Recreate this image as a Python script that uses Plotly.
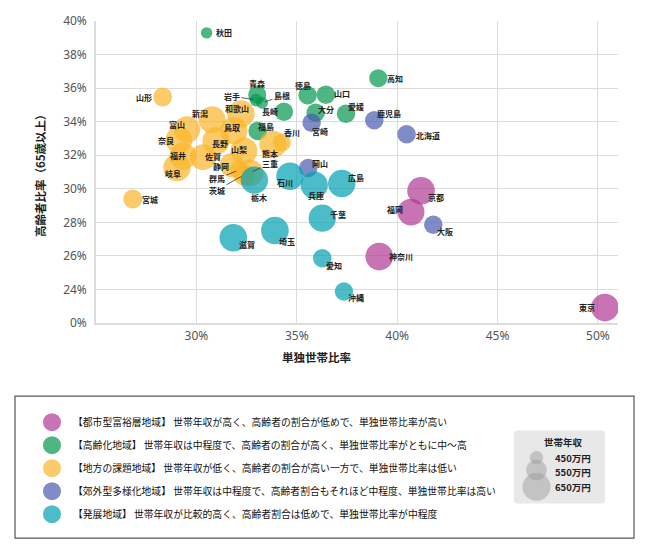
import plotly.graph_objects as go

# ---------------- data ----------------
prefectures = [
    "秋田", "青森", "岩手", "島根", "長崎", "福島", "徳島", "山口", "大分", "愛媛", "高知",
    "宮崎", "鹿児島", "北海道", "岡山", "大阪",
    "山形", "宮城", "新潟", "和歌山", "富山", "鳥取", "奈良", "長野", "山梨", "熊本", "香川",
    "福井", "佐賀", "岐阜", "静岡", "群馬", "三重", "茨城",
    "栃木", "石川", "兵庫", "広島", "千葉", "埼玉", "滋賀", "愛知", "沖縄",
    "京都", "福岡", "神奈川", "東京",
]
single_household_rate = [
    30.51, 33.03, 32.97, 33.27, 34.36, 33.05, 35.54, 36.45, 35.94, 37.45, 39.06,
    35.74, 38.86, 40.47, 35.57, 41.80,
    28.32, 26.83, 30.78, 32.22, 29.53, 31.87, 29.13, 30.98, 32.37, 33.81, 34.26,
    29.33, 30.33, 29.03, 31.77, 32.12, 32.67, 32.37,
    32.89, 34.66, 35.87, 37.24, 36.27, 33.91, 31.84, 36.27, 37.35,
    41.19, 40.69, 39.11, 50.35,
]
elderly_rate = [
    39.29, 35.61, 35.29, 35.12, 34.59, 33.45, 35.57, 35.61, 34.53, 34.47, 36.59,
    33.94, 34.08, 33.25, 31.24, 27.86,
    35.47, 29.39, 34.12, 34.47, 33.53, 33.47, 32.91, 32.85, 32.26, 32.65, 32.76,
    31.94, 31.88, 31.26, 31.41, 31.12, 30.94, 30.82,
    30.51, 30.75, 30.22, 30.31, 28.25, 27.51, 27.08, 25.86, 23.88,
    29.88, 28.61, 25.96, 22.92,
]
household_income = [
    423, 515, 440, 430, 520, 520, 520, 520, 520, 520, 515,
    520, 520, 520, 520, 520,
    525, 528, 635, 640, 630, 640, 635, 640, 635, 640, 515,
    635, 620, 640, 600, 520, 635, 560,
    640, 642, 640, 642, 640, 645, 645, 520, 518,
    645, 635, 645, 645,
]
cluster = [
    1, 1, 1, 1, 1, 1, 1, 1, 1, 1, 1,
    3, 3, 3, 3, 3,
    2, 2, 2, 2, 2, 2, 2, 2, 2, 2, 2,
    2, 2, 2, 2, 2, 2, 2,
    4, 4, 4, 4, 4, 4, 4, 4, 4,
    0, 0, 0, 0,
]

cluster_names = ["都市型富裕層地域", "高齢化地域", "地方の課題地域", "郊外型多様化地域", "発展地域"]
cluster_descriptions = [
    "世帯年収が高く、高齢者の割合が低めで、単独世帯比率が高い",
    "世帯年収は中程度で、高齢者の割合が高く、単独世帯比率がともに中～高",
    "世帯年収が低く、高齢者の割合が高い一方で、単独世帯比率は低い",
    "世帯年収は中程度で、高齢者割合もそれほど中程度、単独世帯比率は高い",
    "世帯年収が比較的高く、高齢者割合は低めで、単独世帯比率が中程度",
]

x_tick_values = [30, 35, 40, 45, 50]
x_tick_labels = ["30%", "35%", "40%", "45%", "50%"]
y_tick_values = [22, 24, 26, 28, 30, 32, 34, 36, 38, 40]
y_tick_labels = ["0%", "24%", "26%", "28%", "30%", "32%", "34%", "36%", "38%", "40%"]
size_legend_values = [450, 550, 650]
size_legend_labels = ["450万円", "550万円", "650万円"]

# ---------------- style ----------------
cluster_colors = ["#af3894", "#03974e", "#fbb52a", "#4a5bb0", "#00a0b0"]
OPACITY = 0.7
JP = "Noto Sans CJK JP"

# label offsets (px, right / down) for each prefecture label
label_offsets = {
    "秋田": (17, 0), "青森": (0, -11), "長崎": (-14, 0), "福島": (8, -4), "徳島": (-5, -10),
    "山口": (16, -1), "大分": (10, -3), "愛媛": (10, -7), "高知": (17, 0), "宮崎": (8, 9),
    "鹿児島": (15, -7), "北海道": (21, 1), "岡山": (12, -4), "大阪": (12, 7),
    "山形": (-19, 0), "宮城": (17, 0), "新潟": (-12, -6), "和歌山": (-4, -5), "富山": (-10, -5),
    "鳥取": (-2, -3), "奈良": (-13, 1), "長野": (4, 3), "山梨": (-5, -1), "熊本": (-3, 9),
    "香川": (10, -10), "福井": (-5, -1), "佐賀": (10, -1), "岐阜": (-4, 6), "静岡": (-11, 1),
    "栃木": (5, 17), "石川": (-5, 6), "兵庫": (2, 10), "広島": (14, -6), "千葉": (16, -4),
    "埼玉": (12, 11), "滋賀": (14, 7), "愛知": (12, 7), "沖縄": (12, 6),
    "京都": (15, 7), "福岡": (-16, -3), "神奈川": (22, 0), "東京": (-18, 0),
}
# labels with leader lines: (ax, ay) text offset from the point
leader_labels = {
    "岩手": (-24, -4), "島根": (20, -7), "三重": (20, -10), "群馬": (-22, 9), "茨城": (-27, 15),
}


def bubble_diameter(v):
    return 2 * (6.7 + (v - 450) * 0.0365)


# plot area geometry in pixels
L, R, T, B = 96, 32, 17, 234
W, H = 650, 557
PW, PH = W - L - R, H - T - B


def px(xp):
    return (xp - L) / PW


def py(yp):
    return (H - B - yp) / PH


fig = go.Figure()

for ci, name in enumerate(cluster_names):
    idx = [i for i, c in enumerate(cluster) if c == ci]
    fig.add_trace(go.Scatter(
        x=[single_household_rate[i] for i in idx],
        y=[elderly_rate[i] for i in idx],
        mode="markers",
        name=name,
        text=[prefectures[i] for i in idx],
        marker=dict(
            size=[bubble_diameter(household_income[i]) for i in idx],
            sizemode="diameter",
            color=cluster_colors[ci],
            opacity=OPACITY,
            line=dict(width=0),
        ),
        hovertemplate="%{text}<br>単独世帯比率 %{x}%<br>高齢者比率 %{y}%<extra></extra>",
        showlegend=False,
    ))

annotations = []
for i, p in enumerate(prefectures):
    if p in leader_labels:
        ax, ay = leader_labels[p]
        annotations.append(dict(
            x=single_household_rate[i], y=elderly_rate[i], xref="x", yref="y",
            text=p, showarrow=True, arrowhead=0, arrowwidth=0.8, arrowcolor="#333",
            ax=ax, ay=ay, standoff=3,
            font=dict(family=JP, size=8, color="#222", weight="bold"),
        ))
    else:
        dx, dy = label_offsets.get(p, (0, 0))
        annotations.append(dict(
            x=single_household_rate[i], y=elderly_rate[i], xref="x", yref="y",
            text=p, showarrow=False, xshift=dx, yshift=-dy,
            xanchor="center", yanchor="middle",
            font=dict(family=JP, size=8, color="#222", weight="bold"),
        ))


def paper_text(xp, yp, text, size, bold=False, xanchor="center", angle=0, color="#222"):
    annotations.append(dict(
        x=px(xp), y=py(yp), xref="paper", yref="paper", text=text,
        showarrow=False, xanchor=xanchor, yanchor="middle", textangle=angle,
        font=dict(family=JP, size=size, color=color, weight="bold" if bold else "normal"),
    ))


# axis titles
paper_text(316, 357, "単独世帯比率", 11.5, bold=True)
paper_text(40, 171, "高齢者比率（65歳以上）", 11.5, bold=True, angle=-90)

shapes = []
# outer legend box
shapes.append(dict(type="rect", xref="paper", yref="paper",
                   x0=px(15), x1=px(634), y0=py(397), y1=py(541),
                   line=dict(color="#555", width=1.2), fillcolor="rgba(0,0,0,0)", layer="above"))

# color legend
for ci, name in enumerate(cluster_names):
    cy = 423.5 + ci * 23.3
    shapes.append(dict(type="circle", xref="paper", yref="paper",
                       xsizemode="pixel", ysizemode="pixel",
                       xanchor=px(52), yanchor=py(cy),
                       x0=-9, x1=9, y0=-9, y1=9,
                       fillcolor=cluster_colors[ci], opacity=OPACITY,
                       line=dict(width=0), layer="above"))
    paper_text(71, cy, f"【{name}】 {cluster_descriptions[ci]}", 9.8, xanchor="left", color="#111")


def rounded_rect_path(x0, x1, y0, y1, r):
    return (f"M {px(x0 + r)} {py(y0)} L {px(x1 - r)} {py(y0)} "
            f"Q {px(x1)} {py(y0)} {px(x1)} {py(y0 + r)} L {px(x1)} {py(y1 - r)} "
            f"Q {px(x1)} {py(y1)} {px(x1 - r)} {py(y1)} L {px(x0 + r)} {py(y1)} "
            f"Q {px(x0)} {py(y1)} {px(x0)} {py(y1 - r)} L {px(x0)} {py(y0 + r)} "
            f"Q {px(x0)} {py(y0)} {px(x0 + r)} {py(y0)} Z")


# size legend box
shapes.append(dict(type="path", xref="paper", yref="paper", layer="above",
                   fillcolor="#e8e8e8", line=dict(width=0),
                   path=rounded_rect_path(514, 605, 432, 506, 4)))
paper_text(563, 444, "世帯年収", 9.5, bold=True)
size_centers_y = [459.5, 472, 489]
size_label_y = [459.5, 473.5, 489]
for k, v in enumerate(size_legend_values):
    r = bubble_diameter(v) / 2
    cy = size_centers_y[k]
    shapes.append(dict(type="circle", xref="paper", yref="paper",
                       xsizemode="pixel", ysizemode="pixel",
                       xanchor=px(536.5), yanchor=py(cy),
                       x0=-r, x1=r, y0=-r, y1=r,
                       fillcolor="rgba(150,150,150,0.45)", line=dict(width=0), layer="above"))
    paper_text(553, size_label_y[k], size_legend_labels[k], 9.5, bold=True, xanchor="left")

fig.update_layout(
    width=W, height=H,
    margin=dict(l=L, r=R, t=T, b=B, pad=0),
    paper_bgcolor="white", plot_bgcolor="white",
    xaxis=dict(
        range=[25, 51], tickvals=x_tick_values, ticktext=x_tick_labels,
        showgrid=True, gridcolor="#dcdcdc", gridwidth=1, zeroline=False,
        showline=True, linecolor="#dcdcdc", linewidth=1.5,
        ticks="outside", ticklen=1, tickcolor="rgba(0,0,0,0)",
        tickfont=dict(family="Noto Sans", size=12, color="#555"),
        fixedrange=True,
    ),
    yaxis=dict(
        range=[22, 40], tickvals=y_tick_values, ticktext=y_tick_labels,
        showgrid=True, gridcolor="#dcdcdc", gridwidth=1, zeroline=False,
        showline=True, linecolor="#dcdcdc", linewidth=1.5,
        ticks="outside", ticklen=5, tickcolor="rgba(0,0,0,0)",
        tickfont=dict(family="Noto Sans", size=12, color="#555"),
        fixedrange=True,
    ),
    annotations=annotations,
    shapes=shapes,
    showlegend=False,
)

fig.write_html("out.html", config={"displayModeBar": False},
               post_script="document.body.style.margin='0';")
